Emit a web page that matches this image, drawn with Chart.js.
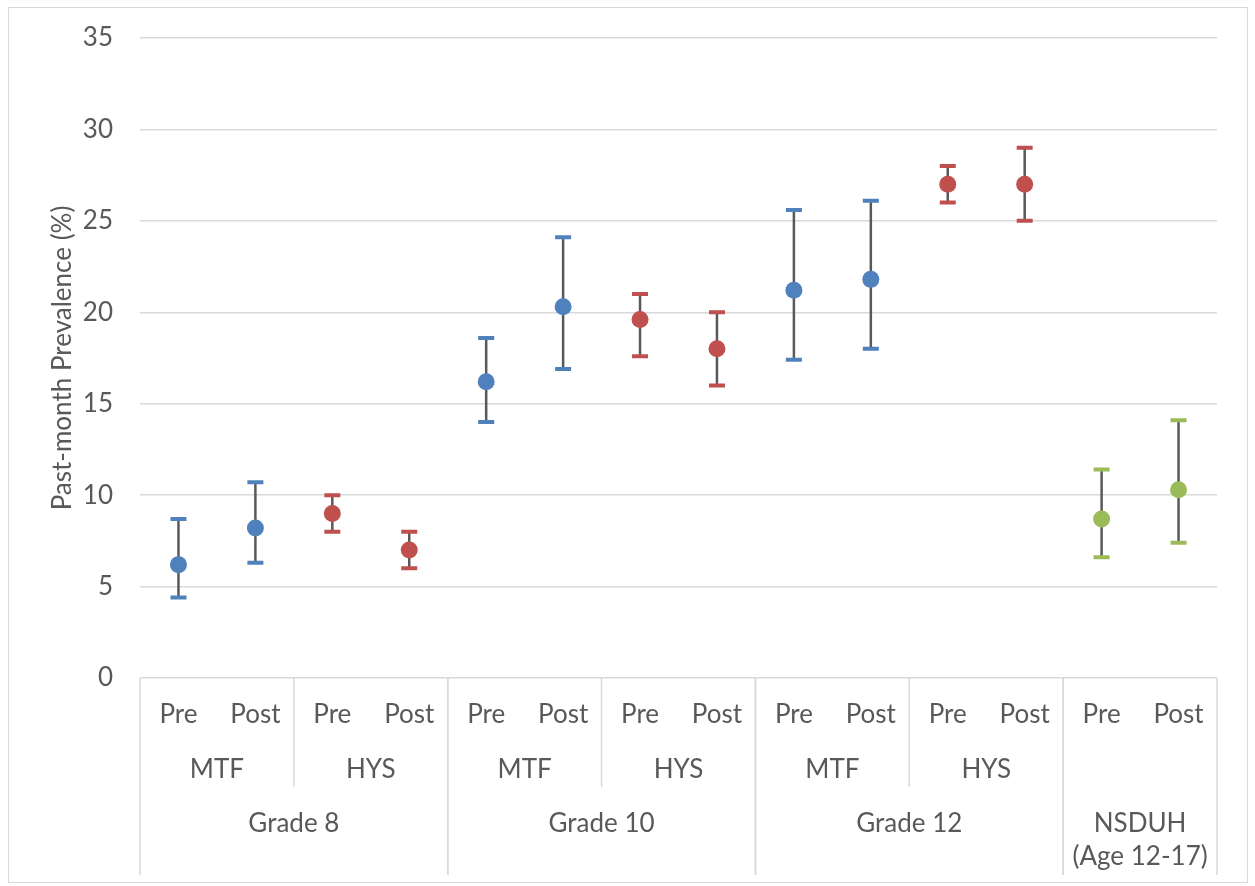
<!DOCTYPE html>
<html lang="en">
<head>
<meta charset="UTF-8">
<title>Past-month Prevalence</title>
<script src="https://cdn.jsdelivr.net/npm/chart.js"></script>
<style>
  html, body { margin: 0; padding: 0; background: #fff; }
  #wrap { width: 1255px; height: 886px; }
</style>
</head>
<body>
<div id="wrap"><canvas id="chart"></canvas></div>
<script>
// categories (three levels)
const waves = ['Pre', 'Post', 'Pre', 'Post', 'Pre', 'Post', 'Pre', 'Post', 'Pre', 'Post', 'Pre', 'Post', 'Pre', 'Post'];
const surveys = ['MTF', 'HYS', 'MTF', 'HYS', 'MTF', 'HYS', ''];
const grades = [['Grade 8'], ['Grade 10'], ['Grade 12'], ['NSDUH', '(Age 12-17)']];
const gradeSurveyCount = [2, 2, 2, 1];

// y ticks
const yMin = 0, yMax = 35, yStep = 5;

// series: mean with lower / upper bounds
const mtfMean = [6.2, 8.2, null, null, 16.2, 20.3, null, null, 21.2, 21.8, null, null, null, null];
const mtfLow  = [4.4, 6.3, null, null, 14.0, 16.9, null, null, 17.4, 18.0, null, null, null, null];
const mtfHigh = [8.7, 10.7, null, null, 18.6, 24.1, null, null, 25.6, 26.1, null, null, null, null];

const hysMean = [null, null, 9.0, 7.0, null, null, 19.6, 18.0, null, null, 27.0, 27.0, null, null];
const hysLow  = [null, null, 8.0, 6.0, null, null, 17.6, 16.0, null, null, 26.0, 25.0, null, null];
const hysHigh = [null, null, 10.0, 8.0, null, null, 21.0, 20.0, null, null, 28.0, 29.0, null, null];

const nsduhMean = [null, null, null, null, null, null, null, null, null, null, null, null, 8.7, 10.3];
const nsduhLow  = [null, null, null, null, null, null, null, null, null, null, null, null, 6.6, 7.4];
const nsduhHigh = [null, null, null, null, null, null, null, null, null, null, null, null, 11.4, 14.1];

const series = [
  { name: 'MTF', mean: mtfMean, low: mtfLow, high: mtfHigh, color: '#4F81BD' },
  { name: 'HYS', mean: hysMean, low: hysLow, high: hysHigh, color: '#C0504D' },
  { name: 'NSDUH', mean: nsduhMean, low: nsduhLow, high: nsduhHigh, color: '#9BBB59' }
];

const textColor = '#595959';
const lineColor = '#D9D9D9';
Chart.defaults.font.family = 'Lato, "Open Sans", sans-serif';

const errorBars = {
  id: 'errorBars',
  beforeDatasetsDraw(chart) {
    const { ctx, scales: { x, y } } = chart;
    ctx.save();
    series.forEach(s => {
      s.mean.forEach((v, i) => {
        if (v === null) return;
        const px = x.getPixelForValue(i);
        const top = y.getPixelForValue(s.high[i]);
        const bot = y.getPixelForValue(s.low[i]);
        ctx.strokeStyle = '#595959';
        ctx.lineWidth = 2.5;
        ctx.beginPath();
        ctx.moveTo(px, top);
        ctx.lineTo(px, bot);
        ctx.stroke();
        ctx.strokeStyle = s.color;
        ctx.lineWidth = 4;
        ctx.beginPath();
        ctx.moveTo(px - 8, top); ctx.lineTo(px + 8, top);
        ctx.moveTo(px - 8, bot); ctx.lineTo(px + 8, bot);
        ctx.stroke();
      });
    });
    ctx.restore();
  }
};

const groupAxis = {
  id: 'groupAxis',
  afterDraw(chart) {
    const { ctx, scales: { x } } = chart;
    const b = chart.chartArea.bottom;
    const n = waves.length;
    const edge = i => {
      if (i === 0) return x.left;
      if (i === n) return x.right;
      return (x.getPixelForValue(i - 1) + x.getPixelForValue(i)) / 2;
    };
    ctx.save();
    ctx.strokeStyle = lineColor;
    ctx.lineWidth = 1.5;
    ctx.fillStyle = textColor;
    ctx.textAlign = 'center';
    ctx.textBaseline = 'middle';
    ctx.font = '26px Lato, "Open Sans", sans-serif';

    // level 1: waves
    waves.forEach((w, i) => ctx.fillText(w, x.getPixelForValue(i), b + 37));

    // level 2: surveys, level 3: grades
    let idx = 0;
    let sIdx = 0;
    grades.forEach((g, gi) => {
      const start = idx;
      for (let k = 0; k < gradeSurveyCount[gi]; k++) {
        const s0 = idx, s1 = idx + 2;
        if (surveys[sIdx]) ctx.fillText(surveys[sIdx], (edge(s0) + edge(s1)) / 2, b + 92);
        if (k > 0) {
          ctx.beginPath();
          ctx.moveTo(edge(s0), b);
          ctx.lineTo(edge(s0), b + 109);
          ctx.stroke();
        }
        idx = s1;
        sIdx++;
      }
      const cx = (edge(start) + edge(idx)) / 2;
      g.forEach((t, li) => ctx.fillText(t, cx, b + 146 + li * 33));
      [start, idx].forEach(e => {
        ctx.beginPath();
        ctx.moveTo(edge(e), b);
        ctx.lineTo(edge(e), b + 197);
        ctx.stroke();
      });
    });

    // outer frame
    ctx.lineWidth = 1;
    ctx.strokeRect(8.5, 7.5, 1239, 875);
    ctx.restore();
  }
};

new Chart(document.getElementById('chart'), {
  type: 'line',
  data: {
    labels: waves,
    datasets: series.map(s => ({
      label: s.name,
      data: s.mean,
      showLine: false,
      pointRadius: 8.5,
      pointHoverRadius: 8.5,
      pointBackgroundColor: s.color,
      pointBorderColor: s.color,
      pointBorderWidth: 0
    }))
  },
  options: {
    responsive: true,
    maintainAspectRatio: false,
    animation: false,
    layout: { padding: { top: 38, right: 38, bottom: 208, left: 0 } },
    plugins: { legend: { display: false }, tooltip: { enabled: false } },
    scales: {
      x: { display: false, offset: true },
      y: {
        min: yMin,
        max: yMax,
        ticks: { stepSize: yStep, color: textColor, font: { size: 26 }, padding: 27 },
        grid: { color: lineColor, lineWidth: 1.5, drawTicks: false },
        border: { display: false },
        title: {
          display: true,
          text: 'Past-month Prevalence (%)',
          color: textColor,
          font: { size: 26 },
          padding: { top: 47, bottom: 0 }
        },
        afterFit(scale) {
          scale.width = 140;
          scale.paddingTop = 0;
          scale.paddingBottom = 0;
        }
      }
    }
  },
  plugins: [errorBars, groupAxis]
});
</script>
</body>
</html>
